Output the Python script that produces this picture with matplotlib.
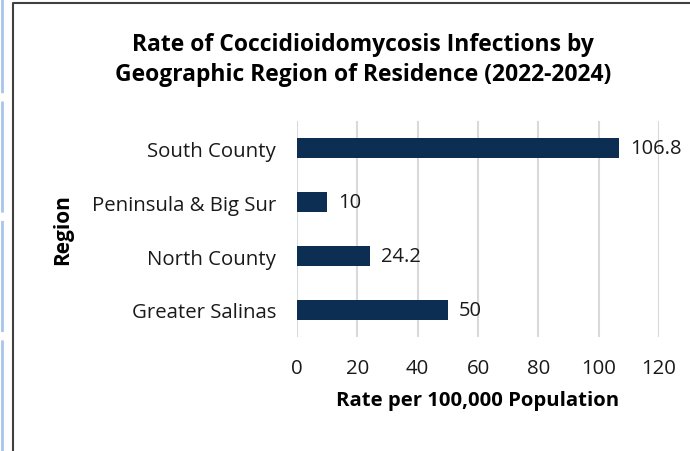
import matplotlib.pyplot as plt
from matplotlib.lines import Line2D

regions = ["Greater Salinas", "North County", "Peninsula & Big Sur", "South County"]
rates = [50, 24.2, 10, 106.8]
rate_labels = ["50", "24.2", "10", "106.8"]
x_ticks = [0, 20, 40, 60, 80, 100, 120]

plt.rcParams['font.family'] = ['Open Sans', 'DejaVu Sans']

fig = plt.figure(figsize=(6.9, 4.52), dpi=100)
ax = fig.add_axes([297/690, 1 - 338/452, (659-297)/690, (338-122)/452])

bars = ax.barh(regions, rates, height=0.36, color='#0b2e52', zorder=3)
for b, lab in zip(bars, rate_labels):
    ax.text(b.get_width() + 3.5, b.get_y() + b.get_height()/2, lab,
            va='center', ha='left', fontsize=14.5, color='#1a1a1a')

ax.set_xlim(0, 120)
ax.set_ylim(-0.5, 3.5)
ax.set_xticks(x_ticks)
ax.xaxis.grid(True, color='#d9d9d9', linewidth=1.5, zorder=0)
for s in ax.spines.values():
    s.set_visible(False)
ax.tick_params(axis='both', length=0, labelsize=14.7, colors='#1a1a1a')
ax.tick_params(axis='x', pad=15)
ax.tick_params(axis='y', pad=15)

ax.set_xlabel("Rate per 100,000 Population", fontsize=14.6, fontweight='bold', labelpad=9)
fig.text(63/690, 1 - 230/452, "Region", rotation=90, fontsize=15, fontweight='bold',
         ha='center', va='center')
fig.text(363/690, 1 - 60/452,
         "Rate of Coccidioidomycosis Infections by\nGeographic Region of Residence (2022-2024)",
         ha='center', va='center', fontsize=16.5, fontweight='bold', linespacing=1.35)

# frame around chart and page edge
fig.add_artist(Line2D([12.5/690, 12.5/690, 1.01], [-0.01, 1 - 3.5/452, 1 - 3.5/452],
                      transform=fig.transFigure, color='#404040', linewidth=1.5))
fig.add_artist(Line2D([1.5/690, 1.5/690], [0, 1], transform=fig.transFigure,
                      color='#a9c4ea', linewidth=2, linestyle=(0, (40, 3))))

fig.savefig("out.png", dpi=100)
